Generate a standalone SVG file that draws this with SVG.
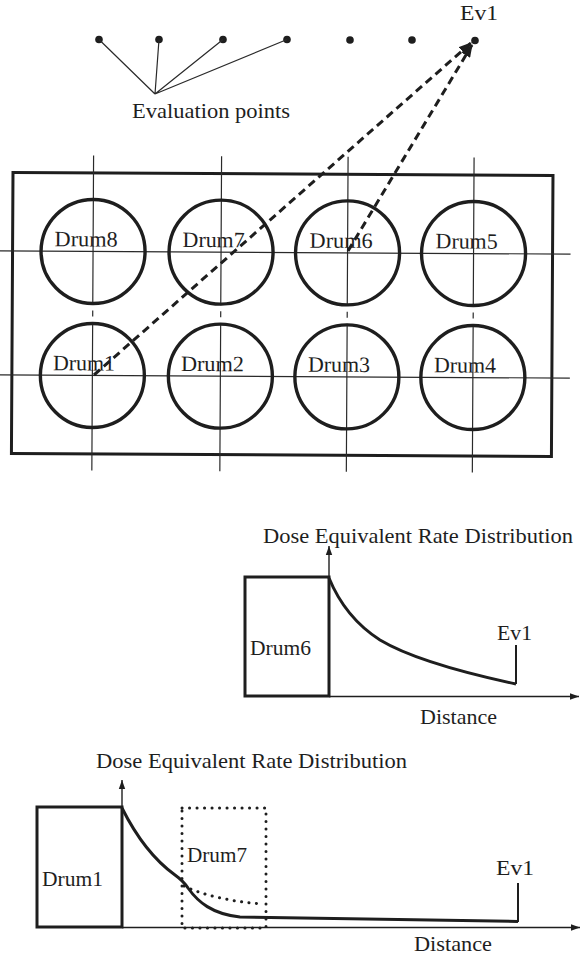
<svg xmlns="http://www.w3.org/2000/svg" width="582" height="961" viewBox="0 0 582 961">
<defs>
<style>
text{font-family:"Liberation Serif","Times New Roman",serif;font-size:22px;fill:#1e1e1e}
.thin{stroke:#2a2a2a;stroke-width:1.2;fill:none}
.thick{stroke:#1e1e1e;stroke-width:3;fill:none}
.drum{stroke:#1e1e1e;stroke-width:3.4;fill:none}
.dash{stroke:#1e1e1e;stroke-width:3;fill:none;stroke-dasharray:8 5}
.dot{fill:#1e1e1e}
.dotted{stroke:#1e1e1e;stroke-width:3;fill:none;stroke-dasharray:0.1 7.4;stroke-linecap:round}
.axis{stroke:#1e1e1e;stroke-width:1.4;fill:none}
</style>
<marker id="ah" markerUnits="userSpaceOnUse" markerWidth="14" markerHeight="10" refX="12" refY="5" orient="auto"><path d="M0,0 L13,5 L0,10 z" fill="#1e1e1e"/></marker>
<marker id="ax" markerUnits="userSpaceOnUse" markerWidth="10" markerHeight="8" refX="9" refY="4" orient="auto"><path d="M0,0.8 L9,4 L0,7.2 z" fill="#1e1e1e"/></marker>
</defs>
<rect width="582" height="961" fill="#fff"/>

<g id="evaluation-points">
<circle class="dot" cx="99" cy="39.5" r="3.8"/>
<circle class="dot" cx="159" cy="39.5" r="3.8"/>
<circle class="dot" cx="223" cy="39.5" r="3.8"/>
<circle class="dot" cx="287" cy="39.5" r="3.8"/>
<circle class="dot" cx="350" cy="40" r="3.8"/>
<circle class="dot" cx="412" cy="40" r="3.8"/>
<circle class="dot" cx="475" cy="40.5" r="3.8"/>
<text x="460" y="20" textLength="38" lengthAdjust="spacingAndGlyphs">Ev1</text>
<text x="132" y="118" textLength="158" lengthAdjust="spacingAndGlyphs">Evaluation points</text>
</g>

<g id="container" transform="rotate(0.32 13 172)">
<rect class="thick" x="13" y="172.5" width="540" height="281"/>
<g id="grid">
<path class="thin" d="M0,251 H571 M0,375 H571"/>
<path class="thin" d="M93.5,155 V304 M93.5,310 V316 M93.5,322 V470"/>
<path class="thin" d="M221.5,155 V304 M221.5,310 V316 M221.5,322 V470"/>
<path class="thin" d="M348,155 V304 M348,310 V316 M348,322 V470"/>
<path class="thin" d="M474,155 V304 M474,310 V316 M474,322 V470"/>
</g>
<g id="drum8"><circle class="drum" cx="93.5" cy="251" r="52"/><text x="55" y="246" textLength="63" lengthAdjust="spacingAndGlyphs">Drum8</text></g>
<g id="drum7"><circle class="drum" cx="221.5" cy="251" r="52"/><text x="183" y="246" textLength="62" lengthAdjust="spacingAndGlyphs">Drum7</text></g>
<g id="drum6"><circle class="drum" cx="348" cy="251" r="52"/><text x="310" y="246" textLength="63" lengthAdjust="spacingAndGlyphs">Drum6</text></g>
<g id="drum5"><circle class="drum" cx="474" cy="251" r="52"/><text x="436" y="246" textLength="62" lengthAdjust="spacingAndGlyphs">Drum5</text></g>
<g id="drum1"><circle class="drum" cx="93.5" cy="375" r="52"/><text x="54" y="370" textLength="62" lengthAdjust="spacingAndGlyphs">Drum1</text></g>
<g id="drum2"><circle class="drum" cx="221.5" cy="375" r="52"/><text x="182" y="370" textLength="63" lengthAdjust="spacingAndGlyphs">Drum2</text></g>
<g id="drum3"><circle class="drum" cx="348" cy="375" r="52"/><text x="309" y="370" textLength="62" lengthAdjust="spacingAndGlyphs">Drum3</text></g>
<g id="drum4"><circle class="drum" cx="474" cy="375" r="52"/><text x="435" y="370" textLength="62" lengthAdjust="spacingAndGlyphs">Drum4</text></g>
</g>

<g id="connectors">
<path class="thin" d="M155,94 L99,39.5 M155,94 L159,39.5 M155,94 L223,39.5 M155,94 L287,39.5"/>
<path class="dash" d="M94,375 L471,43" marker-end="url(#ah)"/>
<path class="dash" d="M348,251 L472,45" marker-end="url(#ah)"/>
</g>

<g id="chart-drum6">
<rect class="thick" x="245" y="577" width="84" height="119"/>
<path class="axis" d="M329,696 V546" marker-end="url(#ax)"/>
<path class="axis" d="M329,696.5 H579" marker-end="url(#ax)"/>
<path class="thick" d="M329,578 C338,600 352,622 380,640 C410,658 460,672 516,684"/>
<path stroke="#1e1e1e" stroke-width="2" fill="none" d="M516,684 V645"/>
<text x="263" y="543" textLength="310" lengthAdjust="spacingAndGlyphs">Dose Equivalent Rate Distribution</text>
<text x="250" y="655" textLength="61" lengthAdjust="spacingAndGlyphs">Drum6</text>
<text x="497" y="640" textLength="35" lengthAdjust="spacingAndGlyphs">Ev1</text>
<text x="420" y="724" textLength="77" lengthAdjust="spacingAndGlyphs">Distance</text>
</g>

<g id="chart-drum1">
<rect class="thick" x="37" y="807" width="85" height="120"/>
<rect class="dotted" x="182" y="808" width="84" height="120"/>
<path class="dotted" d="M184,886 C200,894 230,902 264,904"/>
<path class="axis" d="M122,927 V780" marker-end="url(#ax)"/>
<path class="axis" d="M122,927.5 H580" marker-end="url(#ax)"/>
<path class="thick" d="M122,808 C134,832 150,857 175,875 C182,880 184,882 188,888 C198,902 212,914 240,917 C300,918 400,920 518,921.5"/>
<path stroke="#1e1e1e" stroke-width="2" fill="none" d="M518,922 V883"/>
<text x="96" y="768" textLength="311" lengthAdjust="spacingAndGlyphs">Dose Equivalent Rate Distribution</text>
<text x="42" y="886" textLength="61" lengthAdjust="spacingAndGlyphs">Drum1</text>
<text x="187" y="862" textLength="60" lengthAdjust="spacingAndGlyphs">Drum7</text>
<text x="496" y="875" textLength="38" lengthAdjust="spacingAndGlyphs">Ev1</text>
<text x="414" y="951" textLength="78" lengthAdjust="spacingAndGlyphs">Distance</text>
</g>
</svg>
